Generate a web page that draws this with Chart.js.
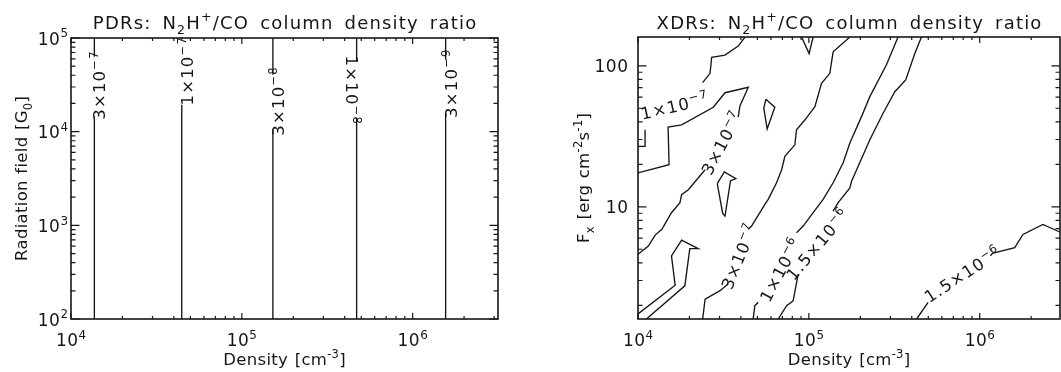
<!DOCTYPE html>
<html>
<head>
<meta charset="utf-8">
<script src="https://cdn.jsdelivr.net/npm/chart.js@4.4.0/dist/chart.umd.min.js"></script>
<style>
  html, body { margin: 0; padding: 0; background: #fff; }
  #wrap { position: relative; width: 1061px; height: 372px; overflow: hidden; }
  canvas { position: absolute; top: 0; }
  #pdr { left: 0; }
  #xdr { left: 530px; }
</style>
</head>
<body>
<div id="wrap">
  <canvas id="pdr" width="530" height="372"></canvas>
  <canvas id="xdr" width="531" height="372"></canvas>
</div>
<script>
// ---------- data ----------
// PDR panel: ratio contours are vertical lines at fixed density
const pdrLevels = ['3×10^{−7}', '1×10^{−7}', '3×10^{−8}', '1×10^{−8}', '3×10^{−9}'];
const pdrDensity = [1.37e4, 4.45e4, 1.52e5, 4.7e5, 1.56e6];
const pdrGapLow = [1.45e4, 1.94e4, 1.05e4, 1.41e4, 1.59e4];   // G0 where label starts
const pdrGapHigh = [6.3e4, 9.6e4, 4.06e4, 5.58e4, 5.86e4];   // G0 where label ends
const pdrLabelG0 = [3.1e4, 4.4e4, 2.1e4, 2.8e4, 3.25e4];
const pdrLabelAngle = [-90, -90, -90, 90, -90];
const pdrXTicks = [1e4, 1e5, 1e6];
const pdrXTickLabels = ['10^{4}', '10^{5}', '10^{6}'];
const pdrYTicks = [1e2, 1e3, 1e4, 1e5];
const pdrYTickLabels = ['10^{2}', '10^{3}', '10^{4}', '10^{5}'];

// XDR panel: density [cm-3] / Fx [erg cm-2 s-1] along each contour (null = label gap)
const xdrA_n = [4.23e4, 3.86e4, 3.23e4, 2.70e4, 2.64e4, 2.39e4, null, 1.10e4, 1.10e4, 1.0e4];
const xdrA_f = [160, 138, 119, 115, 88.4, 75.9, null, 35.2, 26.8, 26.8];

const xdrB_n = [1.0e4, 1.52e4, 1.50e4, 1.80e4, 2.76e4, 3.23e4, 4.42e4, 3.95e4, 3.86e4, null,
                2.47e4, 1.97e4, 1.80e4, 1.76e4, 1.57e4, 1.38e4, 1.26e4, 1.15e4, 1.0e4];
const xdrB_f = [17.4, 19.9, 36.7, 38.1, 50.8, 64.4, 70.4, 51.9, 43.2, null,
                18.3, 13.2, 12.2, 10.7, 9.08, 6.92, 6.3, 5.27, 4.6];

const xdrC_n = [2.39e4, 2.47e4, 3.02e4, 3.37e4, null, 4.42e4, 4.62e4, 5.53e4, 5.78e4, 6.47e4,
                6.93e4, 7.24e4, 8.28e4, 8.47e4, 9.49e4, 1.085e5, 1.186e5, 1.326e5, 1.387e5, 1.738e5];
const xdrC_f = [1.6, 2.21, 2.54, 2.83, null, 6.92, 7.3, 10.4, 11.3, 14.8,
                18.3, 22.8, 27.5, 35.2, 41.4, 51.3, 75.1, 88.4, 125.6, 160];

const xdrD_n = [4.72e4, 4.83e4, 5.06e4, null, 8.47e4, 9.26e4, 1.06e5, 1.212e5, 1.387e5, 1.588e5,
                1.738e5, 2.033e5, 2.275e5, 2.845e5, 3.327e5];
const xdrD_f = [1.6, 1.99, 2.10, null, 6.55, 7.3, 9.08, 11.3, 14.8, 20.5,
                28.3, 43.6, 60.4, 101.6, 160];

const xdrE_n = [6.62e4, 7.41e4, 8.09e4, 8.66e4, null, 1.387e5, 1.484e5, 1.738e5, 1.778e5, 2.275e5,
                2.719e5, 3.184e5, 3.69e5, 4.169e5, 4.56e5];
const xdrE_f = [1.6, 1.99, 2.15, 3.33, null, 9.31, 10.7, 13.6, 15.2, 29.9,
                46.1, 65.5, 79.3, 122.3, 160];

const xdrF_n = [4.27e5, 4.99e5, null, 1.155e6, 1.186e6, 1.603e6, 1.791e6, 2.344e6, 3.0e6];
const xdrF_f = [1.6, 2.10, null, 4.48, 4.68, 5.13, 6.37, 7.5, 6.55];

// small closed islands
const xdrV_n = [9.06e4, 1.004e5, 1.037e5, 1.06e5];
const xdrV_f = [160, 122, 144, 160];
const xdrT_n = [5.60e4, 6.32e4, 5.70e4, 5.45e4, 5.60e4];
const xdrT_f = [57.9, 50.8, 35.6, 50.0, 57.9];
const xdrL_n = [2.91e4, 3.20e4, 3.74e4, 3.48e4, 3.23e4, 3.13e4, 2.91e4];
const xdrL_f = [14.6, 17.7, 15.85, 15.3, 8.59, 8.97, 14.6];
const xdrS_n = [1.0e4, 1.65e4, 1.57e4, 1.80e4, 2.25e4, 2.01e4, 1.88e4, 1.12e4];
const xdrS_f = [1.74, 2.78, 4.48, 5.81, 5.05, 5.05, 2.75, 1.6];

const xdrLabelText = ['1×10^{−7}', '3×10^{−7}', '3×10^{−7}', '1×10^{−6}', '1.5×10^{−6}', '1.5×10^{−6}'];
const xdrLabelN = [1.63e4, 3.09e4, 3.90e4, 6.8e4, 1.12e5, 7.9e5];
const xdrLabelF = [51.7, 28.2, 4.43, 3.55, 5.4, 3.3];
const xdrLabelAngle = [-13, -62, -68, -62, -50, -33];
const xdrXTicks = [1e4, 1e5, 1e6];
const xdrXTickLabels = ['10^{4}', '10^{5}', '10^{6}'];
const xdrYTicks = [10, 100];
const xdrYTickLabels = ['10', '100'];

// ---------- helpers ----------
const FONT = '"DejaVu Sans", sans-serif';
const INK = '#161616';

function parseRich(s) {
  const parts = [];
  const re = /([\^_])\{([^}]*)\}/g;
  let last = 0, m;
  while ((m = re.exec(s))) {
    if (m.index > last) parts.push({ t: s.slice(last, m.index), k: '' });
    parts.push({ t: m[2], k: m[1] });
    last = re.lastIndex;
  }
  if (last < s.length) parts.push({ t: s.slice(last), k: '' });
  return parts;
}

// draws text with ^{sup} and _{sub}; (x,y) is the anchor, vy shifts baseline in the rotated frame
function drawRich(ctx, s, x, y, size, align, angle = 0, vy = 0, spacing = 0, wordGap = 0) {
  const parts = parseRich(s);
  ctx.save();
  ctx.translate(x, y);
  ctx.rotate(angle * Math.PI / 180);
  ctx.textAlign = 'left';
  ctx.textBaseline = 'alphabetic';
  ctx.fillStyle = INK;
  ctx.letterSpacing = spacing + 'px';
  ctx.wordSpacing = wordGap + 'px';
  let w = 0;
  parts.forEach(p => { ctx.font = `${p.k ? size * 0.7 : size}px ${FONT}`; w += ctx.measureText(p.t).width; });
  w -= spacing;
  let cx = align === 'center' ? -w / 2 : align === 'right' ? -w : 0;
  parts.forEach(p => {
    ctx.font = `${p.k ? size * 0.7 : size}px ${FONT}`;
    const dy = p.k === '^' ? -size * 0.42 : p.k === '_' ? size * 0.28 : 0;
    ctx.fillText(p.t, cx, vy + dy);
    cx += ctx.measureText(p.t).width;
  });
  ctx.restore();
}

function logTicks(min, max) {
  const out = [];
  for (let e = Math.floor(Math.log10(min)); e <= Math.ceil(Math.log10(max)); e++) {
    for (let k = 1; k <= 9; k++) {
      const v = k * Math.pow(10, e);
      if (v >= min * 0.9999 && v <= max * 1.0001) out.push({ v, major: k === 1 });
    }
  }
  return out;
}

const toPoints = (ns, fs) => ns.map((n, i) => n === null ? { x: ns[i - 1], y: null } : { x: n, y: fs[i] });

// frame: box, inward ticks on all sides, titles, tick labels, contour labels
const frames = {};
const framePlugin = {
  id: 'frame',
  afterDraw(chart) {
    const f = frames[chart.canvas.id];
    const ctx = chart.ctx;
    const a = chart.chartArea;
    const sx = chart.scales.x, sy = chart.scales.y;

    ctx.save();
    ctx.strokeStyle = INK;
    ctx.lineWidth = 1.6;
    ctx.strokeRect(a.left, a.top, a.right - a.left, a.bottom - a.top);
    ctx.lineWidth = 1.2;
    ctx.beginPath();
    logTicks(sx.min, sx.max).forEach(t => {
      const px = sx.getPixelForValue(t.v), len = t.major ? 6 : 3;
      ctx.moveTo(px, a.bottom); ctx.lineTo(px, a.bottom - len);
      ctx.moveTo(px, a.top); ctx.lineTo(px, a.top + len);
    });
    logTicks(sy.min, sy.max).forEach(t => {
      const py = sy.getPixelForValue(t.v), len = t.major ? 8.5 : 4.5;
      ctx.moveTo(a.left, py); ctx.lineTo(a.left + len, py);
      ctx.moveTo(a.right, py); ctx.lineTo(a.right - len, py);
    });
    ctx.stroke();
    ctx.restore();

    f.xTicks.forEach((v, i) => drawRich(ctx, f.xTickLabels[i], sx.getPixelForValue(v), 346, 17, 'center', 0, 0, 0.5));
    f.yTicks.forEach((v, i) => drawRich(ctx, f.yTickLabels[i], a.left - f.yGap, sy.getPixelForValue(v) + 6.5, 17, 'right', 0, 0, 0.5));

    const midX = (a.left + a.right) / 2;
    drawRich(ctx, f.title, midX, 28.5, 18, 'center', 0, 0, 1.2, 4);
    drawRich(ctx, f.xTitle, midX, 365, 16.5, 'center', 0, 0, 0.3, 1);
    drawRich(ctx, f.yTitle, f.yTitleX, (a.top + a.bottom) / 2, 16.5, 'center', -90, 6, 0.3, 1);

    f.labels.forEach(l => {
      drawRich(ctx, l.text, sx.getPixelForValue(l.x), sy.getPixelForValue(l.y), 16.5, 'center', l.angle, 6 + f.labelShift, 1.2);
    });
  }
};

function makeChart(id, datasets, xMax, yMin, yMax, padding) {
  return new Chart(document.getElementById(id), {
    type: 'line',
    data: { datasets },
    options: {
      responsive: false,
      animation: false,
      events: [],
      layout: { padding },
      plugins: { legend: { display: false }, tooltip: { enabled: false } },
      elements: {
        point: { radius: 0 },
        line: { borderWidth: 1.35, borderColor: INK, tension: 0, fill: false }
      },
      scales: {
        x: {
          type: 'logarithmic', min: 1e4, max: xMax,
          grid: { display: false }, ticks: { display: false }, border: { display: false },
          afterFit: s => { s.height = 0; }
        },
        y: {
          type: 'logarithmic', min: yMin, max: yMax,
          grid: { display: false }, ticks: { display: false }, border: { display: false },
          afterFit: s => { s.width = 0; }
        }
      }
    },
    plugins: [framePlugin]
  });
}

// ---------- PDR ----------
frames.pdr = {
  title: 'PDRs: N_{2}H^{+}/CO column density ratio',
  xTitle: 'Density [cm^{-3}]',
  yTitle: 'Radiation field [G_{0}]',
  yTitleX: 21,
  yGap: 3,
  xTicks: pdrXTicks, xTickLabels: pdrXTickLabels,
  yTicks: pdrYTicks, yTickLabels: pdrYTickLabels,
  labelShift: 5,
  labels: pdrLevels.map((t, i) => ({ text: t, x: pdrDensity[i], y: pdrLabelG0[i], angle: pdrLabelAngle[i] }))
};
const pdrSets = pdrDensity.map((d, i) => ({
  data: [{ x: d, y: 1e2 }, { x: d, y: pdrGapLow[i] }, { x: d, y: null }, { x: d, y: pdrGapHigh[i] }, { x: d, y: 1e5 }],
  spanGaps: false
}));
makeChart('pdr', pdrSets, 3.16e6, 1e2, 1e5, { left: 71, right: 32, top: 38, bottom: 53 });

// ---------- XDR ----------
frames.xdr = {
  title: 'XDRs: N_{2}H^{+}/CO column density ratio',
  xTitle: 'Density [cm^{-3}]',
  yTitle: 'F_{x} [erg cm^{-2}s^{-1}]',
  yTitleX: 53,
  yGap: 10,
  xTicks: xdrXTicks, xTickLabels: xdrXTickLabels,
  yTicks: xdrYTicks, yTickLabels: xdrYTickLabels,
  labelShift: 0,
  labels: xdrLabelText.map((t, i) => ({ text: t, x: xdrLabelN[i], y: xdrLabelF[i], angle: xdrLabelAngle[i] }))
};
const xdrSets = [
  [xdrA_n, xdrA_f], [xdrB_n, xdrB_f], [xdrC_n, xdrC_f], [xdrD_n, xdrD_f],
  [xdrE_n, xdrE_f], [xdrF_n, xdrF_f], [xdrV_n, xdrV_f], [xdrT_n, xdrT_f],
  [xdrL_n, xdrL_f], [xdrS_n, xdrS_f]
].map(([n, f]) => ({ data: toPoints(n, f), spanGaps: false }));
makeChart('xdr', xdrSets, 2.95e6, 1.6, 160, { left: 108, right: 1, top: 37, bottom: 53 });
</script>
</body>
</html>
